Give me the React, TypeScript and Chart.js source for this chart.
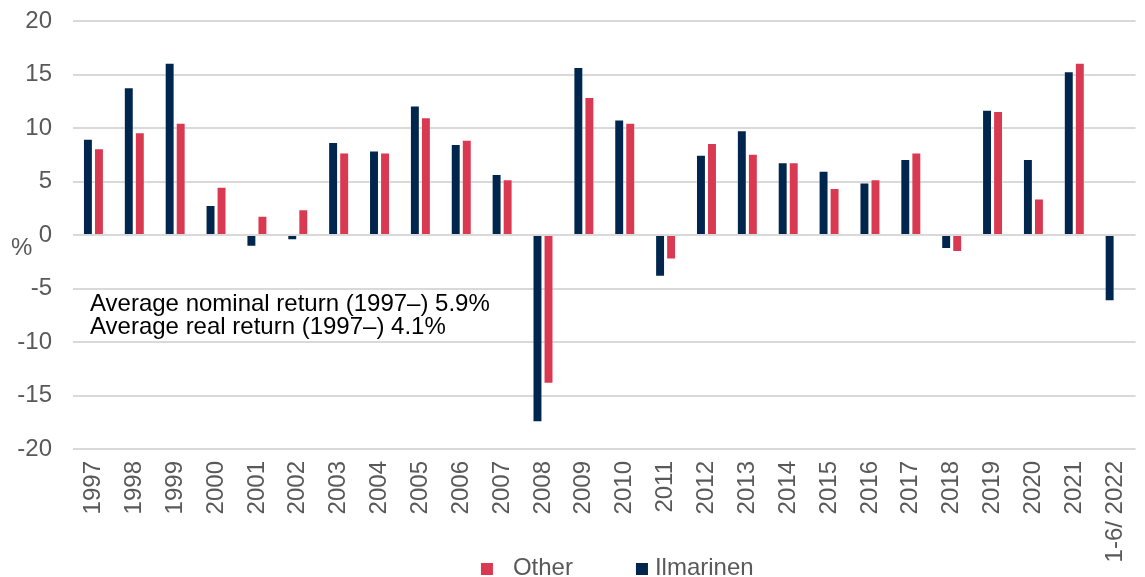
import React, { useEffect, useRef } from "react";
import { Chart, registerables } from "chart.js";

Chart.register(...registerables);

const categories = [
  "1997", "1998", "1999", "2000", "2001", "2002", "2003", "2004", "2005", "2006",
  "2007", "2008", "2009", "2010", "2011", "2012", "2013", "2014", "2015", "2016",
  "2017", "2018", "2019", "2020", "2021", "1-6/ 2022",
];

const ilmarinen = [
  9.0, 13.8, 16.1, 2.8, -1.1, -0.5, 8.7, 7.9, 12.1, 8.5,
  5.7, -17.5, 15.7, 10.8, -3.9, 7.5, 9.8, 6.8, 6.0, 4.9,
  7.1, -1.3, 11.7, 7.1, 15.3, -6.2,
];

const other = [
  8.1, 9.6, 10.5, 4.5, 1.8, 2.4, 7.7, 7.7, 11.0, 8.9,
  5.2, -13.9, 12.9, 10.5, -2.3, 8.6, 7.6, 6.8, 4.4, 5.2,
  7.7, -1.6, 11.6, 3.4, 16.1, null,
];

const yTicks = { min: -20, max: 20, step: 5 };

const annotationLines = [
  "Average nominal return (1997\u2013) 5.9%",
  "Average real return (1997\u2013) 4.1%",
];

const NAVY = "#00264d";
const RED = "#d93a52";
const TICK = "#595959";
const GRID = "#d9d9d9";
const FONT = "'Liberation Sans', Arial, sans-serif";

export default function App() {
  const canvasRef = useRef<HTMLCanvasElement | null>(null);

  useEffect(() => {
    if (!canvasRef.current) return;
    const textPlugin = {
      id: "textPlugin",
      afterDraw(chart: any) {
        const { ctx, chartArea } = chart;
        const yScale = chart.scales.y;
        ctx.save();
        ctx.font = `24px ${FONT}`;
        ctx.textAlign = "left";
        ctx.textBaseline = "alphabetic";
        // axis unit
        ctx.fillStyle = TICK;
        ctx.fillText("%", 11, yScale.getPixelForValue(0) + 20);
        // annotation
        ctx.fillStyle = "#000000";
        const base = yScale.getPixelForValue(-5) + 22.5;
        annotationLines.forEach((t, i) => {
          ctx.fillText(t, chartArea.left + 17, base + i * 23);
        });
        // legend (reverse dataset order: Other, Ilmarinen)
        const items = chart.data.datasets
          .map((d: any) => ({ label: d.label, color: d.backgroundColor }))
          .reverse();
        const gaps = [20, 7];
        const between = 63;
        const box = 12;
        const widths = items.map((it: any) => ctx.measureText(it.label).width);
        let total = 0;
        items.forEach((_: any, i: number) => {
          total += box + gaps[i] + widths[i];
          if (i < items.length - 1) total += between;
        });
        const cx = (chartArea.left + chartArea.right) / 2;
        let x = cx - total / 2 + 13;
        const cy = chart.height - 9;
        ctx.textBaseline = "middle";
        items.forEach((it: any, i: number) => {
          ctx.fillStyle = it.color;
          ctx.fillRect(x, cy - box / 2 + 1, box, box);
          x += box + gaps[i];
          ctx.fillStyle = TICK;
          ctx.fillText(it.label, x, cy);
          x += widths[i] + between;
        });
        ctx.restore();
      },
    };

    const chart = new Chart(canvasRef.current, {
      type: "bar",
      data: {
        labels: categories,
        datasets: [
          {
            label: "Ilmarinen",
            data: ilmarinen,
            backgroundColor: NAVY,
            borderColor: "rgba(255,255,255,0.35)",
            borderWidth: 1,
            categoryPercentage: 0.54,
            barPercentage: 0.9,
          },
          {
            label: "Other",
            data: other,
            backgroundColor: RED,
            borderColor: "rgba(255,255,255,0.35)",
            borderWidth: 1,
            categoryPercentage: 0.54,
            barPercentage: 0.9,
          },
        ],
      },
      options: {
        animation: false,
        responsive: true,
        maintainAspectRatio: false,
        layout: { padding: { top: 21, right: 2, left: 0, bottom: 0 } },
        plugins: {
          tooltip: { enabled: false },
          legend: { display: false },
        },
        scales: {
          x: {
            grid: { display: false, drawTicks: false },
            border: { display: false },
            ticks: {
              autoSkip: false,
              maxRotation: 90,
              minRotation: 90,
              padding: 12,
              color: TICK,
              font: { size: 24, family: FONT },
            },
            afterFit(scale: any) {
              scale.height = 128;
            },
          },
          y: {
            min: yTicks.min,
            max: yTicks.max,
            grid: { color: GRID, lineWidth: 2, drawTicks: false },
            border: { display: false },
            ticks: {
              stepSize: yTicks.step,
              padding: 21,
              color: TICK,
              font: { size: 24, family: FONT },
            },
            afterFit(scale: any) {
              scale.width = 73;
              scale.paddingTop = 0;
              scale.paddingBottom = 0;
            },
          },
        },
      },
      plugins: [textPlugin],
    });
    return () => chart.destroy();
  }, []);

  return (
    <div
      style={{
        position: "fixed",
        left: 0,
        top: 0,
        width: 1145,
        height: 577,
        overflow: "hidden",
        background: "#ffffff",
      }}
    >
      <div style={{ position: "relative", width: 1156, height: 577 }}>
        <canvas ref={canvasRef} />
      </div>
    </div>
  );
}
